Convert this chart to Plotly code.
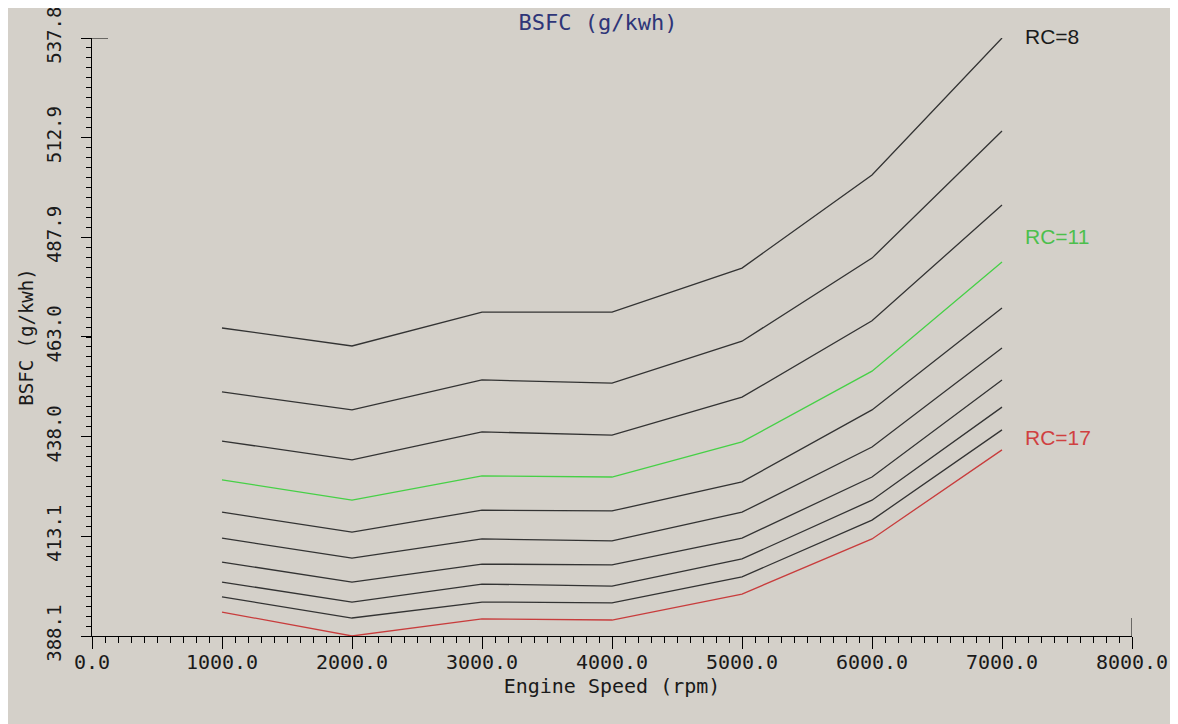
import plotly.graph_objects as go

# ---------------- data ----------------
SPEED = [1000, 2000, 3000, 4000, 5000, 6000, 7000]
RC_NAMES = ["RC=8", "RC=9", "RC=10", "RC=11", "RC=12", "RC=13", "RC=14", "RC=15", "RC=16", "RC=17"]
BSFC_RC8 = [465.2, 460.7, 469.2, 469.2, 480.2, 503.5, 537.8]
BSFC_RC9 = [449.2, 444.7, 452.2, 451.4, 461.9, 482.7, 514.5]
BSFC_RC10 = [436.9, 432.2, 439.2, 438.4, 447.9, 467.0, 496.0]
BSFC_RC11 = [427.2, 422.1, 428.2, 427.9, 436.7, 454.4, 481.7]
BSFC_RC12 = [419.1, 414.1, 419.6, 419.4, 426.7, 444.7, 470.2]
BSFC_RC13 = [412.6, 407.6, 412.4, 411.9, 419.1, 435.4, 460.2]
BSFC_RC14 = [406.6, 401.6, 406.1, 405.9, 412.6, 427.9, 452.2]
BSFC_RC15 = [401.6, 396.6, 401.1, 400.6, 407.4, 422.1, 445.4]
BSFC_RC16 = [397.9, 392.6, 396.6, 396.4, 402.9, 417.1, 439.7]
BSFC_RC17 = [394.1, 388.1, 392.4, 392.1, 398.6, 412.4, 434.7]
SERIES = [BSFC_RC8, BSFC_RC9, BSFC_RC10, BSFC_RC11, BSFC_RC12,
          BSFC_RC13, BSFC_RC14, BSFC_RC15, BSFC_RC16, BSFC_RC17]

Y_TICKS = [388.1, 413.1, 438.0, 463.0, 487.9, 512.9, 537.8]
Y_TICK_TEXT = ["388.1", "413.1", "438.0", "463.0", "487.9", "512.9", "537.8"]
X_TICKS = [0, 1000, 2000, 3000, 4000, 5000, 6000, 7000, 8000]
X_TICK_TEXT = ["0.0", "1000.0", "2000.0", "3000.0", "4000.0", "5000.0", "6000.0", "7000.0", "8000.0"]

LABELS = ["RC=8", "RC=11", "RC=17"]
LABEL_Y = [537.8, 488.2, 437.7]

TITLE = "BSFC (g/kwh)"
X_TITLE = "Engine Speed (rpm)"
Y_TITLE = "BSFC (g/kwh)"

# ---------------- style ----------------
BG = "#d4d0c9"
DARK = "#333333"
GREEN = "#46d046"
RED = "#c83c3c"
MONO = "DejaVu Sans Mono"

color_of = {"RC=11": GREEN, "RC=17": RED}
label_color = {"RC=8": "#1a1a1a", "RC=11": "#4cbf4c", "RC=17": "#d04040"}
label_shift = {"RC=8": 2, "RC=11": 0, "RC=17": 0}

fig = go.Figure()
for name, vals in zip(RC_NAMES, SERIES):
    fig.add_trace(go.Scatter(
        x=SPEED, y=vals, mode="lines", name=name,
        line=dict(color=color_of.get(name, DARK), width=1.3),
        showlegend=False, hoverinfo="x+y+name",
    ))

for lab, ly in zip(LABELS, LABEL_Y):
    fig.add_annotation(
        x=7160, y=ly, xref="x", yref="y", text=lab, showarrow=False,
        xanchor="left", yanchor="middle", yshift=label_shift[lab],
        font=dict(family="Liberation Sans", size=21, color=label_color[lab]),
    )

# end-cap marks on axes
fig.add_shape(type="line", xref="paper", yref="y", xsizemode="pixel", xanchor=0,
              x0=0, x1=16, y0=Y_TICKS[-1], y1=Y_TICKS[-1],
              line=dict(color="black", width=1))
fig.add_shape(type="line", xref="x", yref="paper", ysizemode="pixel", yanchor=0,
              x0=X_TICKS[-1], x1=X_TICKS[-1], y0=0, y1=18,
              line=dict(color="black", width=1))

W, H = 1170, 716
fig.update_layout(
    width=W, height=H,
    margin=dict(l=84, r=46, t=30, b=88, autoexpand=False),
    paper_bgcolor=BG, plot_bgcolor=BG,
    title=dict(text=TITLE, x=590 / W, xref="container", xanchor="center",
               y=1 - 14 / H, yref="container", yanchor="middle", automargin=False,
               font=dict(family=MONO, size=22, color="#2e3578")),
    font=dict(family=MONO, color="#1a1a1a"),
)

fig.update_xaxes(
    range=[0, 8000], showgrid=False, zeroline=False, automargin=False,
    showline=True, linecolor="black", linewidth=1,
    tickmode="array", tickvals=X_TICKS, ticktext=X_TICK_TEXT,
    ticks="outside", ticklen=12, tickcolor="black", tickwidth=1,
    minor=dict(dtick=100, tick0=0, ticks="outside", ticklen=6, tickcolor="black", tickwidth=1, showgrid=False),
    ticklabelstandoff=-4, ticklabeloverflow="allow",
    tickfont=dict(family=MONO, size=20, color="#1a1a1a"),
    title=dict(text=X_TITLE, standoff=0, font=dict(family=MONO, size=20, color="#1a1a1a")),
)
fig.update_yaxes(
    range=[Y_TICKS[0], Y_TICKS[-1]], showgrid=False, zeroline=False, automargin=False,
    showline=True, linecolor="black", linewidth=1,
    tickmode="array", tickvals=Y_TICKS, ticktext=Y_TICK_TEXT,
    ticks="outside", ticklen=10, tickcolor="black", tickwidth=1,
    minor=dict(dtick=2.495, tick0=388.1, ticks="outside", ticklen=5, tickcolor="black", tickwidth=1, showgrid=False),
    tickangle=-90, ticklabelstandoff=12, ticklabeloverflow="allow",
    tickfont=dict(family=MONO, size=19, color="#1a1a1a"),
    title=dict(text=Y_TITLE, standoff=4, font=dict(family=MONO, size=19, color="#1a1a1a")),
)

fig.write_html("out.html")
